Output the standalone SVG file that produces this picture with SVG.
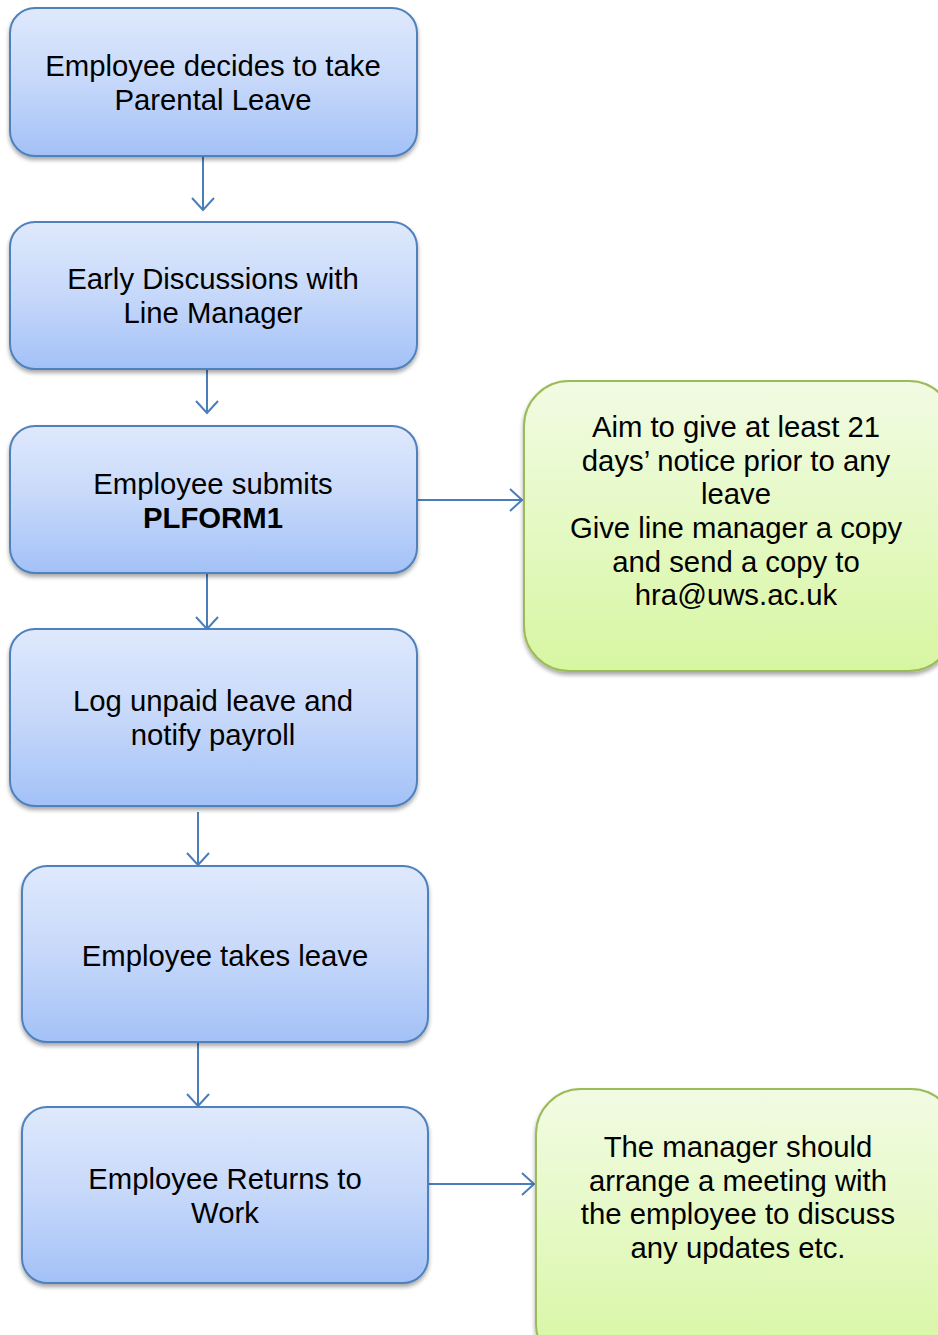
<svg xmlns="http://www.w3.org/2000/svg" width="938" height="1335" viewBox="0 0 938 1335">
<style>
.b{stroke:#4f81bd;stroke-width:2;fill:url(#gb);filter:url(#sh)}
.g{stroke:#9bbb59;stroke-width:2;fill:url(#gg);filter:url(#sh)}
text{font-family:"Liberation Sans",Arial,sans-serif;font-size:29.3px;fill:#000;text-anchor:middle}
.bold{font-weight:bold}
.c{stroke:#4a7ebb;stroke-width:2;fill:none;marker-end:url(#ah)}
</style>
<defs>
<linearGradient id="gb" x1="0" y1="0" x2="0" y2="1">
<stop offset="0" stop-color="#dfe9fc"/>
<stop offset="0.5" stop-color="#c6d8fa"/>
<stop offset="1" stop-color="#a3c1f7"/>
</linearGradient>
<linearGradient id="gg" x1="0" y1="0" x2="0" y2="1">
<stop offset="0" stop-color="#f1fbe3"/>
<stop offset="0.5" stop-color="#e5f9c4"/>
<stop offset="1" stop-color="#d7f6a1"/>
</linearGradient>
<filter id="sh" x="-10%" y="-10%" width="120%" height="130%">
<feGaussianBlur in="SourceAlpha" stdDeviation="2"/>
<feOffset dx="0" dy="3"/>
<feComponentTransfer><feFuncA type="linear" slope="0.35"/></feComponentTransfer>
<feMerge><feMergeNode/><feMergeNode in="SourceGraphic"/></feMerge>
</filter>
<marker id="ah" markerWidth="15" markerHeight="24" refX="13" refY="12" orient="auto" markerUnits="userSpaceOnUse">
<path d="M1,1 L13,12 L1,23" fill="none" stroke="#4a7ebb" stroke-width="2"/>
</marker>
</defs>
<g id="connectors">
<line class="c" x1="203" y1="156" x2="203" y2="210"/>
<line class="c" x1="207" y1="370" x2="207" y2="413"/>
<line class="c" x1="207" y1="574" x2="207" y2="629"/>
<line class="c" x1="198" y1="812" x2="198" y2="865"/>
<line class="c" x1="198" y1="1043" x2="198" y2="1106"/>
<line class="c" x1="417" y1="500" x2="522" y2="500"/>
<line class="c" x1="428" y1="1184" x2="534" y2="1184"/>
</g>
<g id="n1">
<rect class="b" x="10" y="8" width="407" height="148" rx="25"/>
<text x="213" y="76">Employee decides to take</text>
<text x="213" y="110">Parental Leave</text>
</g>
<g id="n2">
<rect class="b" x="10" y="222" width="407" height="147" rx="25"/>
<text x="213" y="289">Early Discussions with</text>
<text x="213" y="323">Line Manager</text>
</g>
<g id="n3">
<rect class="b" x="10" y="426" width="407" height="147" rx="25"/>
<text x="213" y="494">Employee submits</text>
<text class="bold" x="213" y="528">PLFORM1</text>
</g>
<g id="n4">
<rect class="b" x="10" y="629" width="407" height="177" rx="25"/>
<text x="213" y="711">Log unpaid leave and</text>
<text x="213" y="745">notify payroll</text>
</g>
<g id="n5">
<rect class="b" x="22" y="866" width="406" height="176" rx="25"/>
<text x="225" y="966">Employee takes leave</text>
</g>
<g id="n6">
<rect class="b" x="22" y="1107" width="406" height="176" rx="25"/>
<text x="225" y="1189">Employee Returns to</text>
<text x="225" y="1223">Work</text>
</g>
<g id="g1">
<rect class="g" x="524" y="381" width="430" height="290" rx="45"/>
<text x="736" y="437">Aim to give at least 21</text>
<text x="736" y="471">days’ notice prior to any</text>
<text x="736" y="504">leave</text>
<text x="736" y="538">Give line manager a copy</text>
<text x="736" y="572">and send a copy to</text>
<text x="736" y="605">hra@uws.ac.uk</text>
</g>
<g id="g2">
<rect class="g" x="536" y="1089" width="420" height="280" rx="45"/>
<text x="738" y="1157">The manager should</text>
<text x="738" y="1191">arrange a meeting with</text>
<text x="738" y="1224">the employee to discuss</text>
<text x="738" y="1258">any updates etc.</text>
</g>
</svg>
